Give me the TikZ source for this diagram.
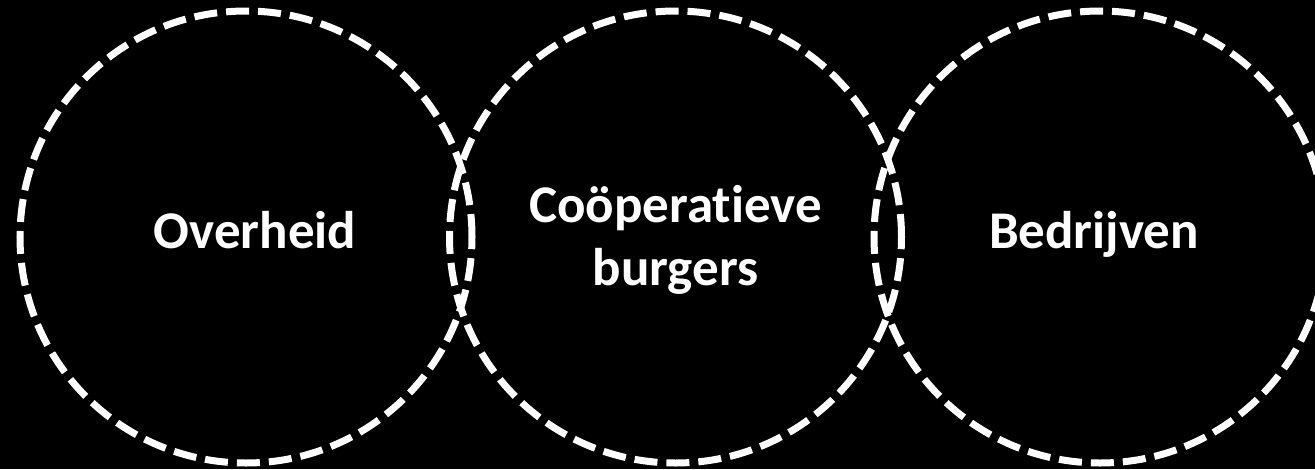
\documentclass[tikz,border=0pt]{standalone}
\usepackage{fontspec}
\setmainfont{Carlito}[Ligatures=NoCommon]
\tikzset{
  ring/.style={circle,draw=white,line width=7pt,dash pattern=on 23pt off 9pt,minimum size=452pt,inner sep=0pt},
  lbl/.style={text=white,font=\fontsize{53}{63}\selectfont\bfseries,align=center,anchor=base}
}
\begin{document}
\begin{tikzpicture}[x=1pt,y=-1pt]
	\fill[black](0,0)rectangle(1315,469);
	\useasboundingbox(0,0)rectangle(1315,469);
	\node[ring](overheid)at(246,237){};
	\node[ring](burgers)at(675.5,237){};
	\node[ring](bedrijven)at(1100,237){};
	\node[lbl]at([xshift=9pt,yshift=-11pt]overheid.center){Overheid};
	\node[lbl]at([yshift=-48pt]burgers.center){Coöperatieve\\burgers};
	\node[lbl]at([xshift=-6pt,yshift=-11pt]bedrijven.center){Bedrijven};
\end{tikzpicture}
\end{document}
